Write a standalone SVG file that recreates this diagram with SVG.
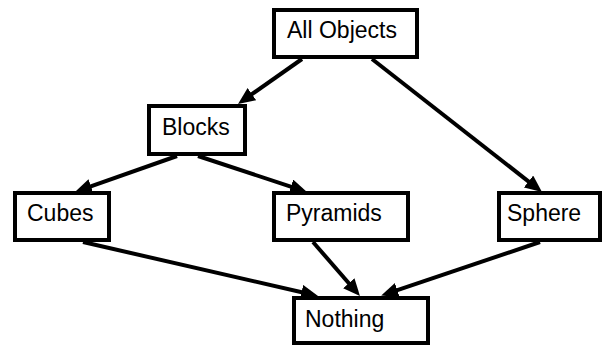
<svg xmlns="http://www.w3.org/2000/svg" width="606" height="346" viewBox="0 0 606 346">
<style>
.box{fill:#fff;stroke:#000;stroke-width:4}
.lbl{font-family:"Liberation Sans",Arial,sans-serif;font-size:23px;fill:#000}
.edge{stroke:#000;stroke-width:4;fill:none}
</style>
<defs>
<marker id="arr" markerUnits="userSpaceOnUse" markerWidth="18" markerHeight="16" refX="7" refY="7.5" orient="auto">
<path d="M0,0 L17,7.5 L0,15 z" fill="#000"/>
</marker>
</defs>
<rect width="606" height="346" fill="#fff"/>
<g id="edges">
<line class="edge" x1="302" y1="59" x2="246.2" y2="98.2" marker-end="url(#arr)"/>
<line class="edge" x1="372" y1="59" x2="534.1" y2="185.8" marker-end="url(#arr)"/>
<line class="edge" x1="177" y1="156" x2="84.4" y2="188.7" marker-end="url(#arr)"/>
<line class="edge" x1="198" y1="156" x2="297.5" y2="188.9" marker-end="url(#arr)"/>
<line class="edge" x1="83" y1="242" x2="308.3" y2="293.8" marker-end="url(#arr)"/>
<line class="edge" x1="313" y1="242" x2="353.4" y2="288.5" marker-end="url(#arr)"/>
<line class="edge" x1="540" y1="242" x2="390.7" y2="292.4" marker-end="url(#arr)"/>
</g>
<g id="all-objects"><rect class="box" x="274" y="10" width="143" height="47"/><text class="lbl" x="287" y="38">All Objects</text></g>
<g id="blocks"><rect class="box" x="149" y="106" width="96" height="48"/><text class="lbl" x="162" y="135">Blocks</text></g>
<g id="cubes"><rect class="box" x="15" y="193" width="94" height="47"/><text class="lbl" x="27" y="221">Cubes</text></g>
<g id="pyramids"><rect class="box" x="274" y="193" width="134" height="47"/><text class="lbl" x="286" y="221">Pyramids</text></g>
<g id="sphere"><rect class="box" x="499" y="193" width="101" height="47"/><text class="lbl" x="507" y="221">Sphere</text></g>
<g id="nothing"><rect class="box" x="294" y="298" width="134" height="45"/><text class="lbl" x="305" y="327">Nothing</text></g>
</svg>
